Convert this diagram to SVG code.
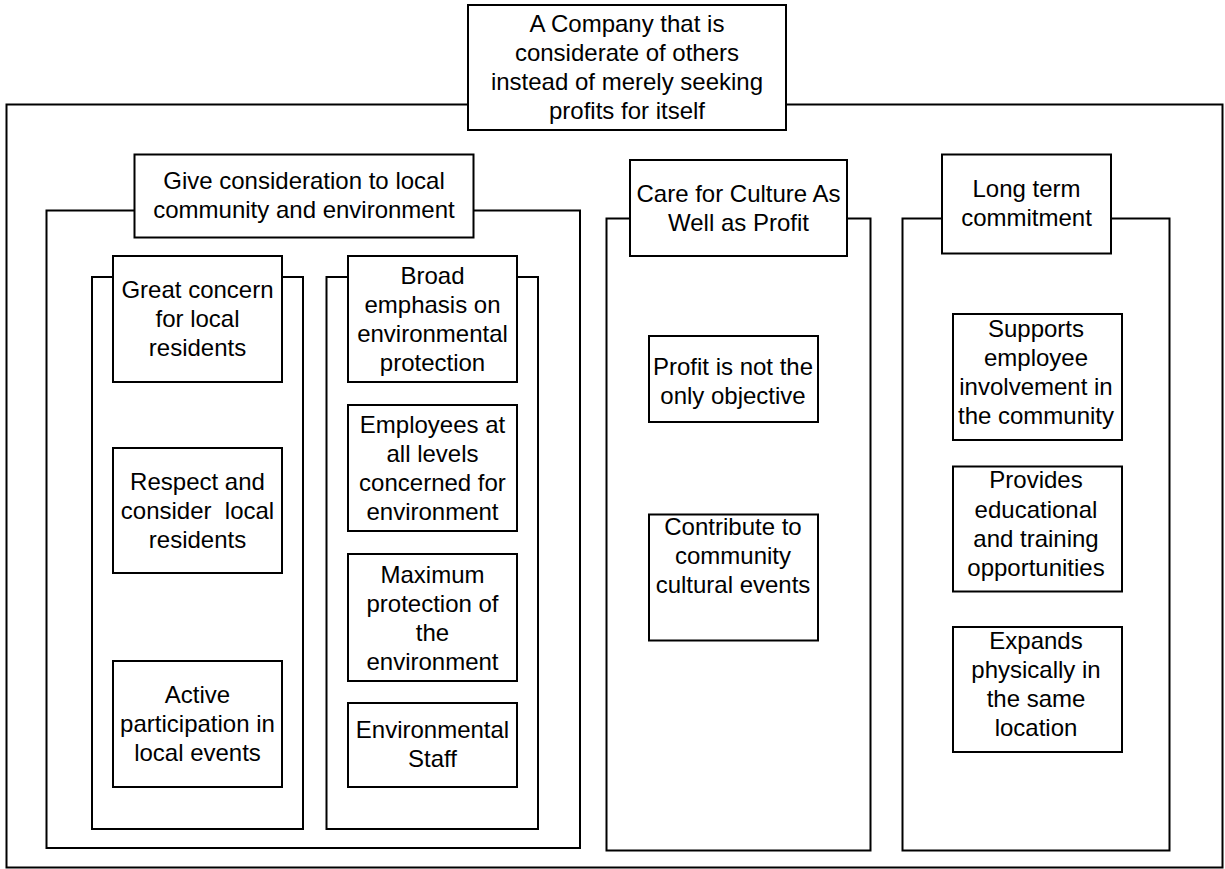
<svg xmlns="http://www.w3.org/2000/svg" width="1225" height="869" viewBox="0 0 1225 869">
<style>
  .frame { fill: none; stroke: #000; stroke-width: 2; }
  .box { fill: #fff; stroke: #000; stroke-width: 2; }
  .t { font-family: "Liberation Sans", Arial, sans-serif; font-size: 24px; fill: #000; text-anchor: middle; white-space: pre; }
</style>
<rect width="1225" height="869" fill="#fff"/>
<g id="connectors"></g>

<g id="outer-frame">
  <rect class="frame" x="6.5" y="104.5" width="1216" height="763"/>
</g>
<g id="root">
  <rect class="box" x="468" y="5" width="318" height="125"/>
  <text class="t" x="627" y="32">A Company that is</text>
  <text class="t" x="627" y="61">considerate of others</text>
  <text class="t" x="627" y="90">instead of merely seeking</text>
  <text class="t" x="627" y="119">profits for itself</text>
</g>

<g id="community-frame">
  <rect class="frame" x="46.5" y="210.5" width="533.5" height="637.5"/>
</g>
<g id="community">
  <rect class="box" x="134.5" y="154.5" width="339" height="83"/>
  <text class="t" x="304" y="189">Give consideration to local</text>
  <text class="t" x="304" y="218">community and environment</text>
</g>

<g id="residents-frame">
  <rect class="frame" x="92" y="277" width="211" height="552"/>
</g>
<g id="great-concern">
  <rect class="box" x="113" y="256" width="169" height="126"/>
  <text class="t" x="197.5" y="298">Great concern</text>
  <text class="t" x="197.5" y="327">for local</text>
  <text class="t" x="197.5" y="356">residents</text>
</g>
<g id="respect">
  <rect class="box" x="113" y="448" width="169" height="125"/>
  <text class="t" x="197.5" y="490">Respect and</text>
  <text class="t" x="197.5" y="519">consider  local</text>
  <text class="t" x="197.5" y="548">residents</text>
</g>
<g id="active">
  <rect class="box" x="113" y="661" width="169" height="126"/>
  <text class="t" x="197.5" y="703">Active</text>
  <text class="t" x="197.5" y="732">participation in</text>
  <text class="t" x="197.5" y="761">local events</text>
</g>

<g id="environment-frame">
  <rect class="frame" x="326.5" y="277" width="211.5" height="552"/>
</g>
<g id="broad-emphasis">
  <rect class="box" x="348" y="256" width="169" height="126"/>
  <text class="t" x="432.5" y="284">Broad</text>
  <text class="t" x="432.5" y="313">emphasis on</text>
  <text class="t" x="432.5" y="342">environmental</text>
  <text class="t" x="432.5" y="371">protection</text>
</g>
<g id="employees">
  <rect class="box" x="348" y="405" width="169" height="126"/>
  <text class="t" x="432.5" y="433">Employees at</text>
  <text class="t" x="432.5" y="462">all levels</text>
  <text class="t" x="432.5" y="491">concerned for</text>
  <text class="t" x="432.5" y="520">environment</text>
</g>
<g id="maximum">
  <rect class="box" x="348" y="554" width="169" height="127"/>
  <text class="t" x="432.5" y="583">Maximum</text>
  <text class="t" x="432.5" y="612">protection of</text>
  <text class="t" x="432.5" y="641">the</text>
  <text class="t" x="432.5" y="670">environment</text>
</g>
<g id="env-staff">
  <rect class="box" x="348" y="703" width="169" height="84"/>
  <text class="t" x="432.5" y="737.5">Environmental</text>
  <text class="t" x="432.5" y="766.5">Staff</text>
</g>

<g id="culture-frame">
  <rect class="frame" x="606.5" y="218.5" width="264" height="632"/>
</g>
<g id="culture">
  <rect class="box" x="630" y="160" width="217" height="96"/>
  <text class="t" x="738.5" y="202">Care for Culture As</text>
  <text class="t" x="738.5" y="231">Well as Profit</text>
</g>
<g id="profit">
  <rect class="box" x="649" y="336" width="169" height="86"/>
  <text class="t" x="733" y="374.5">Profit is not the</text>
  <text class="t" x="733" y="403.5">only objective</text>
</g>
<g id="contribute">
  <rect class="box" x="649" y="514.5" width="169" height="126"/>
  <text class="t" x="733" y="535">Contribute to</text>
  <text class="t" x="733" y="564">community</text>
  <text class="t" x="733" y="593">cultural events</text>
</g>

<g id="longterm-frame">
  <rect class="frame" x="902.5" y="218.5" width="267" height="632"/>
</g>
<g id="longterm">
  <rect class="box" x="942" y="154.5" width="169" height="99"/>
  <text class="t" x="1026.5" y="196.5">Long term</text>
  <text class="t" x="1026.5" y="225.5">commitment</text>
</g>
<g id="supports">
  <rect class="box" x="953" y="314" width="169" height="126"/>
  <text class="t" x="1036" y="337">Supports</text>
  <text class="t" x="1036" y="366">employee</text>
  <text class="t" x="1036" y="395">involvement in</text>
  <text class="t" x="1036" y="424">the community</text>
</g>
<g id="provides">
  <rect class="box" x="953" y="466.5" width="169" height="125"/>
  <text class="t" x="1036" y="488">Provides</text>
  <text class="t" x="1036" y="517.5">educational</text>
  <text class="t" x="1036" y="546.5">and training</text>
  <text class="t" x="1036" y="575.5">opportunities</text>
</g>
<g id="expands">
  <rect class="box" x="953" y="627" width="169" height="125"/>
  <text class="t" x="1036" y="649">Expands</text>
  <text class="t" x="1036" y="678">physically in</text>
  <text class="t" x="1036" y="707">the same</text>
  <text class="t" x="1036" y="736">location</text>
</g>
</svg>
